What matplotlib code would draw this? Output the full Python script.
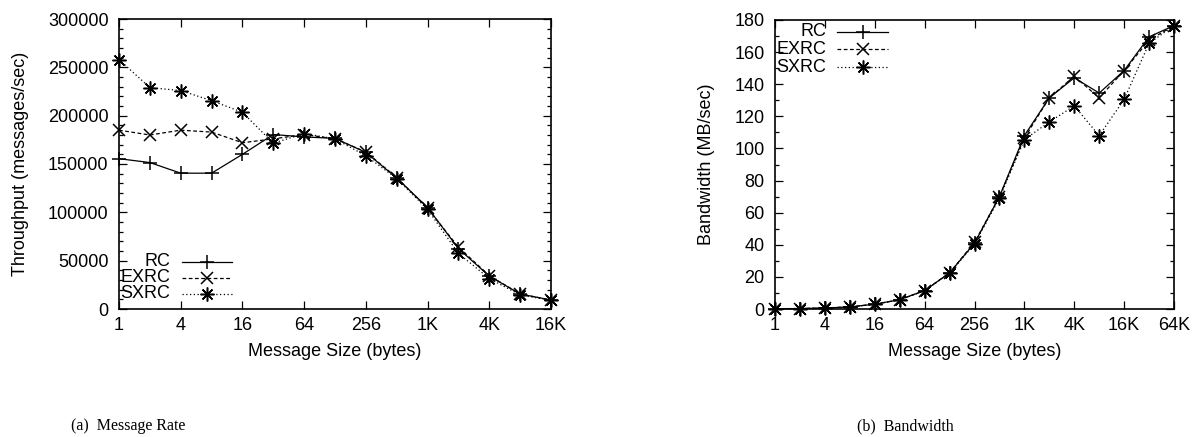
import matplotlib
matplotlib.use("Agg")
import matplotlib.pyplot as plt
from matplotlib.ticker import FixedLocator, MultipleLocator, NullLocator
from matplotlib.lines import Line2D

plt.rcParams['font.family'] = ['Liberation Sans', 'DejaVu Sans']

# ---------------- data ----------------
sizes_rate = [1, 2, 4, 8, 16, 32, 64, 128, 256, 512, 1024, 2048, 4096, 8192, 16384]
rate_rc = [155500, 151500, 140500, 140500, 160000, 180500, 178000, 176500, 162000, 135500, 105000, 62500, 34000, 15500, 9300]
rate_exrc = [185000, 180000, 185000, 183000, 172000, 176000, 180500, 176000, 162500, 136000, 104000, 64000, 34500, 15500, 9300]
rate_sxrc = [258000, 229000, 226000, 215500, 203500, 171500, 181500, 176000, 158500, 135000, 103000, 57500, 31500, 14500, 9000]

sizes_bw = [1, 2, 4, 8, 16, 32, 64, 128, 256, 512, 1024, 2048, 4096, 8192, 16384, 32768, 65536]
bw_rc = [0.15, 0.3, 0.6, 1.3, 3.0, 5.8, 11.5, 22.5, 41.0, 70.0, 108.0, 131.5, 144.0, 134.5, 148.5, 169.5, 176.5]
bw_exrc = [0.15, 0.3, 0.6, 1.3, 3.0, 5.8, 11.5, 22.5, 41.5, 70.0, 106.5, 131.5, 145.0, 131.5, 148.5, 167.5, 176.5]
bw_sxrc = [0.15, 0.3, 0.6, 1.2, 2.9, 5.7, 11.3, 22.3, 40.5, 69.0, 105.5, 116.5, 126.5, 108.0, 130.5, 165.5, 176.5]

series_names = ["RC", "EXRC", "SXRC"]
rate_ticks = [1, 4, 16, 64, 256, 1024, 4096, 16384]
rate_tick_labels = ["1", "4", "16", "64", "256", "1K", "4K", "16K"]
bw_ticks = [1, 4, 16, 64, 256, 1024, 4096, 16384, 65536]
bw_tick_labels = ["1", "4", "16", "64", "256", "1K", "4K", "16K", "64K"]

# ---------------- style ----------------
styles = [
    dict(linestyle='-', marker='+', markersize=10, markeredgewidth=1.1),
    dict(linestyle=(0, (3, 2)), marker='x', markersize=8, markeredgewidth=1.1),
    dict(linestyle=(0, (1, 2)), marker=(8, 2, 0), markersize=10, markeredgewidth=1.1),
]

W, H = 1192, 437
fig = plt.figure(figsize=(W / 100, H / 100), dpi=100)

FS = 13

def px_axes(l, t, r, b):
    return fig.add_axes([l / W, 1 - b / H, (r - l) / W, (b - t) / H])

def style_axes(ax, xticks, xlabels, xmax, ymax, ymajor, yminor):
    ax.set_xscale('log', base=2)
    ax.set_xlim(1, xmax)
    ax.set_ylim(0, ymax)
    ax.xaxis.set_major_locator(FixedLocator(xticks))
    ax.set_xticklabels(xlabels)
    ax.xaxis.set_minor_locator(NullLocator())
    ax.yaxis.set_major_locator(MultipleLocator(ymajor))
    ax.yaxis.set_minor_locator(MultipleLocator(yminor))
    ax.tick_params(which='both', direction='in', top=True, right=True,
                   labelsize=FS, width=0.9, color='black')
    ax.tick_params(which='major', length=6)
    ax.tick_params(which='minor', length=3)
    ax.tick_params(axis='x', which='major', pad=6)
    ax.tick_params(axis='y', which='major', pad=7.5)
    for s in ax.spines.values():
        s.set_linewidth(1.2)
    ax.set_xlabel("Message Size (bytes)", fontsize=FS, labelpad=6)

def legend(ax, x_text, x0, x1, ys):
    for name, st, y in zip(series_names, styles, ys):
        ax.text(x_text / W, 1 - y / H, name, transform=fig.transFigure,
                ha='right', va='center', fontsize=FS)
        ln = Line2D([x0 / W, x1 / W], [1 - y / H, 1 - y / H], transform=fig.transFigure,
                    color='black', linewidth=0.9, linestyle=st['linestyle'])
        fig.add_artist(ln)
        mk = Line2D([(x0 + x1) / 2 / W], [1 - y / H], transform=fig.transFigure,
                    color='black', linestyle='none', marker=st['marker'],
                    markersize=st['markersize'], markeredgewidth=st['markeredgewidth'])
        fig.add_artist(mk)

# ---------------- left: message rate ----------------
ax1 = px_axes(119, 19, 551, 309)
for vals, st, name in zip([rate_rc, rate_exrc, rate_sxrc], styles, series_names):
    ax1.plot(sizes_rate, vals, color='black', linewidth=0.9, label=name, clip_on=False, **st)
style_axes(ax1, rate_ticks, rate_tick_labels, 16384, 300000, 50000, 10000)
ax1.set_ylabel("Throughput (messages/sec)", fontsize=FS, labelpad=14)
legend(ax1, 170, 182, 232, [262, 278, 294])

# ---------------- right: bandwidth ----------------
ax2 = px_axes(775, 20, 1174, 309)
for vals, st, name in zip([bw_rc, bw_exrc, bw_sxrc], styles, series_names):
    ax2.plot(sizes_bw, vals, color='black', linewidth=0.9, label=name, clip_on=False, **st)
style_axes(ax2, bw_ticks, bw_tick_labels, 65536, 180, 20, 10)
ax2.set_ylabel("Bandwidth (MB/sec)", fontsize=FS, labelpad=14)
legend(ax2, 826, 837, 888, [32, 49, 67])

# ---------------- captions ----------------
fig.text(128 / W, 1 - 426 / H, "(a)  Message Rate", family=['Liberation Serif', 'DejaVu Serif'],
         fontsize=11.5, ha='center', va='center')
fig.text(905 / W, 1 - 426 / H, "(b)  Bandwidth", family=['Liberation Serif', 'DejaVu Serif'],
         fontsize=11.5, ha='center', va='center')

fig.savefig("out.png", dpi=100)
